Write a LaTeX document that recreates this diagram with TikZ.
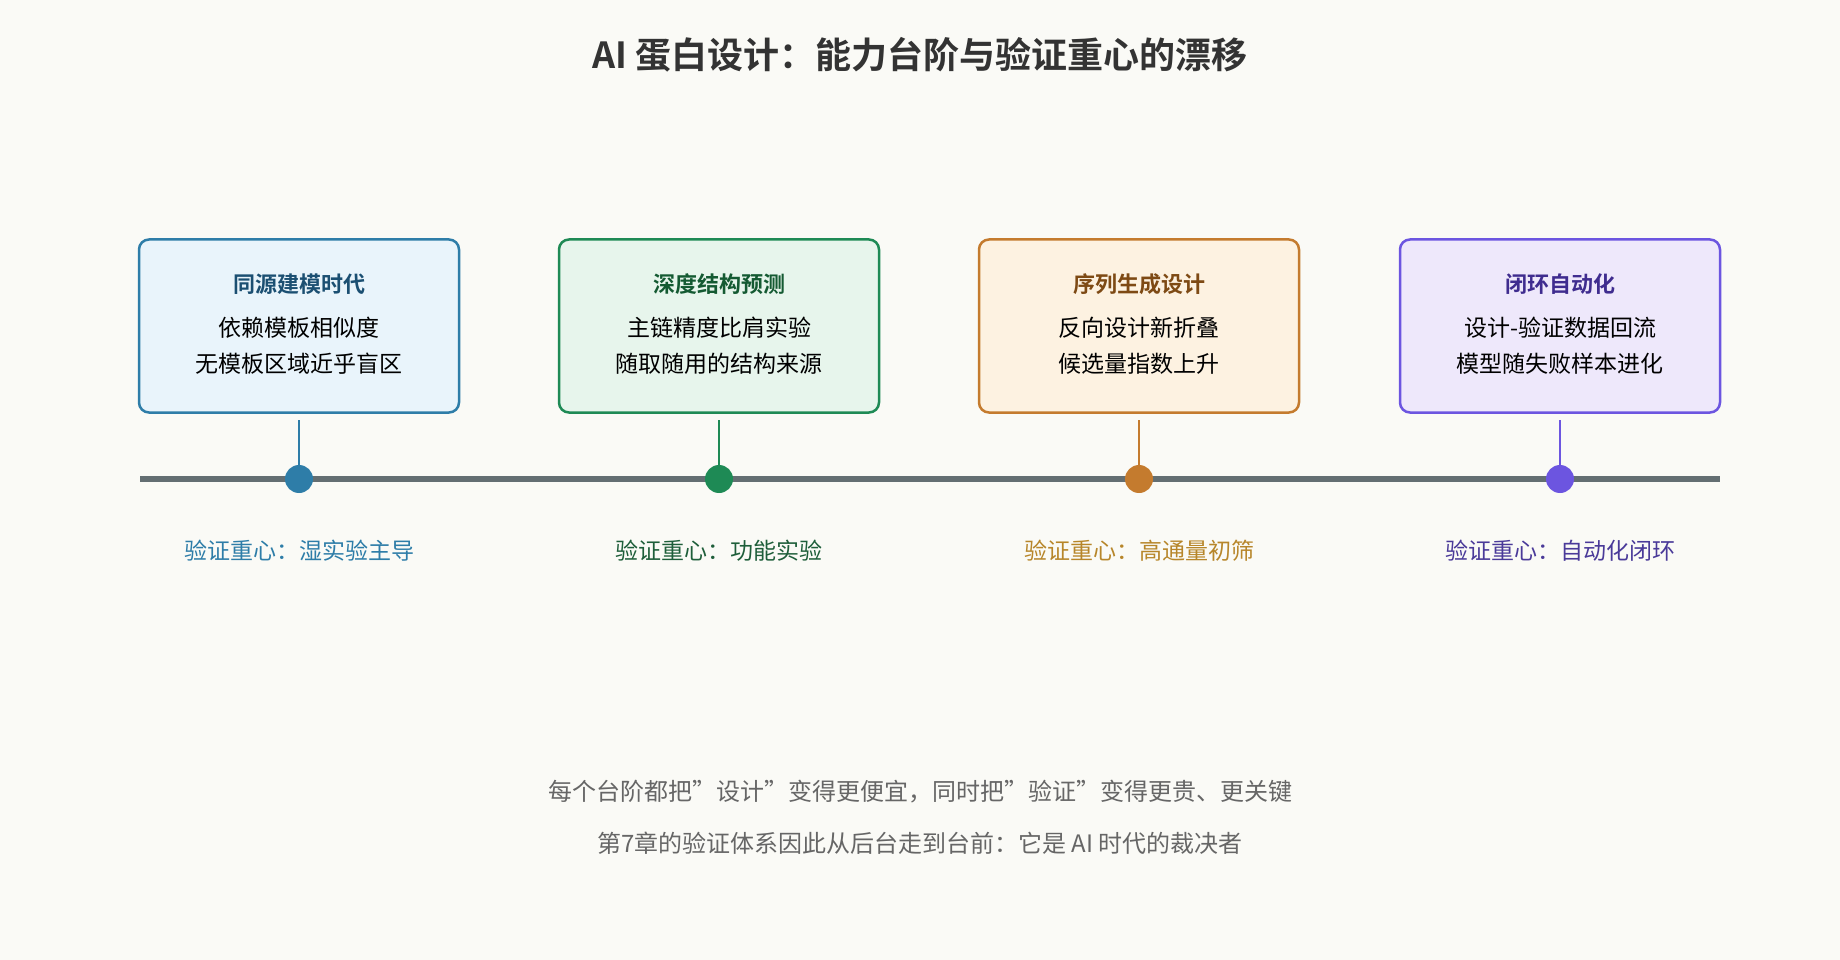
\documentclass[tikz,border=0pt]{standalone}
\usepackage{fontspec}
\setmainfont{Noto Sans CJK SC}[BoldFont={Noto Sans CJK SC Bold}]
\usetikzlibrary{positioning}
\definecolor{bg}{HTML}{FAFAF6}
\definecolor{axis}{HTML}{636E72}
\definecolor{cA}{HTML}{2E7DA8}\definecolor{fA}{HTML}{E9F4FB}\definecolor{tA}{HTML}{1B4F72}\definecolor{lA}{HTML}{2E7DA8}
\definecolor{cB}{HTML}{1E8A55}\definecolor{fB}{HTML}{E7F5EC}\definecolor{tB}{HTML}{145A32}\definecolor{lB}{HTML}{1E5E3A}
\definecolor{cC}{HTML}{C47B2E}\definecolor{fC}{HTML}{FDF2E1}\definecolor{tC}{HTML}{7E4A14}\definecolor{lC}{HTML}{B7862A}
\definecolor{cD}{HTML}{6C55E0}\definecolor{fD}{HTML}{EEE8FB}\definecolor{tD}{HTML}{3F2C8F}\definecolor{lD}{HTML}{4A3A99}
\tikzset{
  stage/.style={rectangle, rounded corners=10pt, line width=2.5pt, minimum width=320pt, minimum height=173pt},
  dot/.style={circle, inner sep=0pt, minimum size=28pt},
  stem/.style={line width=2.5pt},
  focus/.style={font=\fontsize{23}{28}\selectfont},
  txt/.style={align=center, font=\fontsize{23}{36}\selectfont}
}
\begin{document}
\begin{tikzpicture}[x=1pt, y=-1pt]
  \fill[bg] (0,0) rectangle (1840,960);
  \node[font=\bfseries\fontsize{36}{40}\selectfont, text=black!80] (title) at (920,55) {AI 蛋白设计：能力台阶与验证重心的漂移};

  \coordinate (left) at (140,479);
  \coordinate (right) at (1720,479);
  \draw[axis, line width=6pt] (left) -- (right);

  \foreach \i/\x/\c/\head/\lineA/\lineB/\lab in {
    1/299/A/同源建模时代/依赖模板相似度/无模板区域近乎盲区/湿实验主导,
    2/719/B/深度结构预测/主链精度比肩实验/随取随用的结构来源/功能实验,
    3/1139/C/序列生成设计/反向设计新折叠/候选量指数上升/高通量初筛,
    4/1560/D/闭环自动化/设计-验证数据回流/模型随失败样本进化/自动化闭环}{
    \node[stage, draw=c\c, fill=f\c] (box\i) at (\x,326) {};
    \node[txt, font=\bfseries\fontsize{22}{28}\selectfont, text=t\c] (head\i) at (\x,284) {\head};
    \node[txt, text=black] (body\i) at (\x,346) {\lineA\\\lineB};
    \node[dot, fill=c\c] (dot\i) at (\x,479) {};
    \coordinate (top\i) at (\x,420);
    \draw[stem, c\c] (top\i) -- (dot\i);
    \node[focus, text=l\c] (lab\i) at (\x,551) {验证重心：\lab};
  }

  \node[txt, text=black!60, font=\fontsize{24}{52}\selectfont] (note) at (920,817)
    {每个台阶都把"设计"变得更便宜，同时把"验证"变得更贵、更关键\\第7章的验证体系因此从后台走到台前：它是 AI 时代的裁决者};
\end{tikzpicture}
\end{document}
